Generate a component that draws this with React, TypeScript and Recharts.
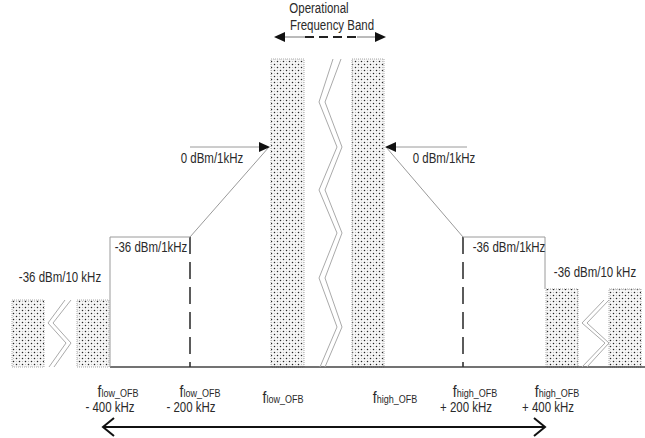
import React from 'react';
import { ComposedChart, XAxis, YAxis, Line, Scatter, ReferenceArea, ReferenceLine } from 'recharts';

// Diagram units: x = frequency position (not to scale), y = level (dB-like, 0 = 0 dBm/1kHz)
const LEVEL_BLOCK = 35.2;
const LEVEL_0 = 0;
const LEVEL_36 = -36;
const LEVEL_FAR_R = -56.8;
const LEVEL_FAR_L = -61.2;
const FLOOR = -88;

const blocks = [
  { x1: 12, x2: 44, top: LEVEL_FAR_L },
  { x1: 77, x2: 109, top: LEVEL_FAR_L },
  { x1: 271, x2: 304, top: LEVEL_BLOCK },
  { x1: 352, x2: 384, top: LEVEL_BLOCK },
  { x1: 546, x2: 578, top: LEVEL_FAR_R },
  { x1: 609, x2: 641, top: LEVEL_FAR_R },
];

const leftMask = [
  { x: 110, y: FLOOR },
  { x: 110, y: LEVEL_36 },
  { x: 190, y: LEVEL_36 },
  { x: 269, y: LEVEL_0 },
];
const rightMask = [
  { x: 386, y: LEVEL_0 },
  { x: 463, y: LEVEL_36 },
  { x: 545, y: LEVEL_36 },
  { x: 545, y: LEVEL_FAR_R },
];

const dashedMarkers = [190, 463];

const zigCenterA = [
  { x: 333, y: 35.2 }, { x: 319, y: 18 }, { x: 337, y: 0 }, { x: 319, y: -17.2 },
  { x: 337, y: -34.4 }, { x: 319, y: -52.4 }, { x: 337, y: -72 }, { x: 320, y: -88 },
];
const zigCenterB = [
  { x: 341, y: 35.2 }, { x: 325, y: 18 }, { x: 342, y: 0 }, { x: 325, y: -17.2 },
  { x: 342, y: -34.4 }, { x: 325, y: -52.4 }, { x: 342, y: -72 }, { x: 325, y: -88 },
];
const zigLeftA = [{ x: 65, y: -61.2 }, { x: 48, y: -70.4 }, { x: 66, y: -78.4 }, { x: 49, y: -88 }];
const zigLeftB = [{ x: 71, y: -61.2 }, { x: 53, y: -70.4 }, { x: 71, y: -78.4 }, { x: 54, y: -88 }];
const zigRightA = [{ x: 604, y: -61.2 }, { x: 582, y: -70.4 }, { x: 605, y: -78.4 }, { x: 582, y: -88 }];
const zigRightB = [{ x: 609, y: -61.2 }, { x: 587, y: -70.4 }, { x: 609, y: -78.4 }, { x: 587, y: -88 }];

const ofbArrowSolidL = [{ x: 276, y: 44 }, { x: 305, y: 44 }];
const ofbArrowDash = [{ x: 305, y: 44 }, { x: 357, y: 44 }];
const ofbArrowSolidR = [{ x: 357, y: 44 }, { x: 384, y: 44 }];
const levelArrowL = [{ x: 190, y: LEVEL_0 }, { x: 262, y: LEVEL_0 }];
const levelArrowR = [{ x: 393, y: LEVEL_0 }, { x: 467, y: LEVEL_0 }];
const freqAxisArrow = [{ x: 103, y: -112 }, { x: 545, y: -112 }];

const arrowHeads = [
  { x: 274, y: 44, dir: 'left', open: false },
  { x: 386, y: 44, dir: 'right', open: false },
  { x: 270, y: LEVEL_0, dir: 'right', open: false },
  { x: 385, y: LEVEL_0, dir: 'left', open: false },
  { x: 103, y: -112, dir: 'left', open: true },
  { x: 545, y: -112, dir: 'right', open: true },
];

const textLabels = [
  { x: 319, y: 55.4, text: 'Operational' },
  { x: 332, y: 48.6, text: 'Frequency Band' },
  { x: 212, y: -4.4, text: '0 dBm/1kHz' },
  { x: 444, y: -4.4, text: '0 dBm/1kHz' },
  { x: 151, y: -40, text: '-36 dBm/1kHz' },
  { x: 509, y: -40, text: '-36 dBm/1kHz' },
  { x: 60, y: -52, text: '-36 dBm/10 kHz' },
  { x: 595, y: -50, text: '-36 dBm/10 kHz' },
  { x: 110, y: -104, text: '- 400 kHz' },
  { x: 191, y: -104, text: '- 200 kHz' },
  { x: 466, y: -104, text: '+ 200 kHz' },
  { x: 548, y: -104, text: '+ 400 kHz' },
];

const freqLabels = [
  { x: 118, y: -97.2, sub: 'low_OFB' },
  { x: 200, y: -97.2, sub: 'low_OFB' },
  { x: 283, y: -99.6, sub: 'low_OFB' },
  { x: 395, y: -99.6, sub: 'high_OFB' },
  { x: 475, y: -97.2, sub: 'high_OFB' },
  { x: 557, y: -97.2, sub: 'high_OFB' },
];

const FONT = "'Liberation Sans', Arial, sans-serif";
const NARROW = 0.82;
const TEXT_COLOR = '#2a2a2a';
const MASK_COLOR = '#9a9a9a';

const TextShape = (props: any) => {
  const { cx, cy, payload } = props;
  return (
    <text
      x={0}
      y={0}
      transform={`translate(${cx},${cy}) scale(${NARROW},1)`}
      textAnchor="middle"
      dominantBaseline="central"
      fontFamily={FONT}
      fontSize={14}
      fill={TEXT_COLOR}
    >
      {payload.text}
    </text>
  );
};

const FreqShape = (props: any) => {
  const { cx, cy, payload } = props;
  return (
    <text
      x={0}
      y={0}
      transform={`translate(${cx},${cy}) scale(${NARROW},1)`}
      textAnchor="middle"
      dominantBaseline="central"
      fontFamily={FONT}
      fill={TEXT_COLOR}
    >
      <tspan fontSize={17}>f</tspan>
      <tspan fontSize={11} dy={3}>{payload.sub}</tspan>
    </text>
  );
};

const HeadShape = (props: any) => {
  const { cx, cy, payload } = props;
  const s = payload.dir === 'left' ? 1 : -1;
  if (payload.open) {
    const pts = `${cx + s * 11},${cy - 9} ${cx},${cy} ${cx + s * 11},${cy + 9}`;
    return <polyline points={pts} fill="none" stroke="#111" strokeWidth={2} />;
  }
  const pts = `${cx},${cy} ${cx + s * 11},${cy - 5} ${cx + s * 11},${cy + 5}`;
  return <polygon points={pts} fill="#111" />;
};

const lineProps = {
  dataKey: 'y',
  type: 'linear' as const,
  dot: false,
  activeDot: false,
  isAnimationActive: false,
  legendType: 'none' as const,
};

export default function App() {
  return (
    <div style={{ position: 'absolute', left: 0, top: 0, width: 645, height: 438, background: '#fff' }}>
      <ComposedChart width={645} height={438} margin={{ top: 0, right: 0, bottom: 0, left: 0 }}>
        <defs>
          <pattern id="dots" x="0" y="0" width="6" height="6" patternUnits="userSpaceOnUse">
            <rect x="0" y="0" width="6" height="6" fill="#f6f6f6" />
            <circle cx="1.5" cy="1.5" r="0.75" fill="#222" />
            <circle cx="4.5" cy="4.5" r="0.75" fill="#222" />
            <circle cx="4.5" cy="1.5" r="0.5" fill="#aaa" />
            <circle cx="1.5" cy="4.5" r="0.5" fill="#aaa" />
          </pattern>
        </defs>
        <XAxis dataKey="x" type="number" domain={[0, 645]} hide allowDataOverflow />
        <YAxis type="number" domain={[-116.4, 58.8]} hide allowDataOverflow />

        {blocks.map((b, i) => (
          <ReferenceArea
            key={'b' + i}
            x1={b.x1}
            x2={b.x2}
            y1={FLOOR}
            y2={b.top}
            fill="url(#dots)"
            fillOpacity={1}
            stroke="#aaa"
            strokeWidth={1}
            strokeDasharray="1 1"
            ifOverflow="visible"
          />
        ))}

        <ReferenceLine segment={[{ x: 110, y: FLOOR }, { x: 645, y: FLOOR }]} stroke="#444" strokeWidth={1.5} ifOverflow="visible" />
        {dashedMarkers.map((m) => (
          <ReferenceLine
            key={'d' + m}
            segment={[{ x: m, y: LEVEL_36 }, { x: m, y: FLOOR }]}
            stroke="#333"
            strokeWidth={1.6}
            strokeDasharray="17 8"
            ifOverflow="visible"
          />
        ))}

        <Line {...lineProps} data={leftMask} stroke={MASK_COLOR} strokeWidth={1} />
        <Line {...lineProps} data={rightMask} stroke={MASK_COLOR} strokeWidth={1} />

        <Line {...lineProps} data={zigCenterA} stroke="#aaa" strokeWidth={1} />
        <Line {...lineProps} data={zigCenterB} stroke="#aaa" strokeWidth={1} />
        <Line {...lineProps} data={zigLeftA} stroke="#aaa" strokeWidth={1} />
        <Line {...lineProps} data={zigLeftB} stroke="#aaa" strokeWidth={1} />
        <Line {...lineProps} data={zigRightA} stroke="#aaa" strokeWidth={1} />
        <Line {...lineProps} data={zigRightB} stroke="#aaa" strokeWidth={1} />

        <Line {...lineProps} data={ofbArrowSolidL} stroke="#777" strokeWidth={1} />
        <Line {...lineProps} data={ofbArrowDash} stroke="#222" strokeWidth={2} strokeDasharray="9 5" />
        <Line {...lineProps} data={ofbArrowSolidR} stroke="#777" strokeWidth={1} />
        <Line {...lineProps} data={levelArrowL} stroke={MASK_COLOR} strokeWidth={1} />
        <Line {...lineProps} data={levelArrowR} stroke={MASK_COLOR} strokeWidth={1} />
        <Line {...lineProps} data={freqAxisArrow} stroke="#111" strokeWidth={2} />

        <Scatter data={arrowHeads} dataKey="y" shape={HeadShape} isAnimationActive={false} legendType="none" />
        <Scatter data={textLabels} dataKey="y" shape={TextShape} isAnimationActive={false} legendType="none" />
        <Scatter data={freqLabels} dataKey="y" shape={FreqShape} isAnimationActive={false} legendType="none" />
      </ComposedChart>
    </div>
  );
}
